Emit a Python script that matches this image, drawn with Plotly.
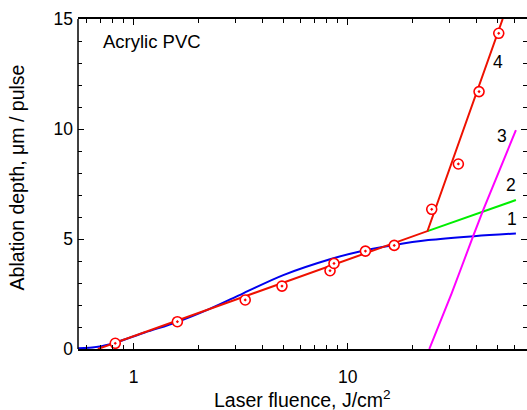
import numpy as np
import plotly.graph_objects as go

# measured data (fluence J/cm^2, depth um/pulse)
pts_F = [0.82, 1.60, 3.32, 4.93, 8.27, 8.63, 12.1, 16.5, 24.7, 32.9, 41.1, 50.8]
pts_d = [0.26, 1.24, 2.23, 2.86, 3.56, 3.89, 4.45, 4.71, 6.35, 8.41, 11.70, 14.35]

# curve 4 (red broken line)
red_F = [0.68, 23.6, 53.0]
red_d = [0.0, 5.36, 15.0]

# curve 1 (blue)
blue_F = [0.549, 0.681, 0.82, 1.126, 1.61, 2.25, 3.25, 5.0, 8.27, 11.8, 16.3, 23.8, 39.0, 61.1]
blue_d = [0.03, 0.10, 0.29, 0.75, 1.24, 1.81, 2.53, 3.36, 4.08, 4.47, 4.72, 4.95, 5.13, 5.25]

# curve 2 (green)
green_F = [23.6, 61.1]
green_d = [5.36, 6.77]

# curve 3 (magenta)
mag_F = [24.06, 30.6, 38.6, 43.0, 61.1]
mag_d = [0.0, 2.53, 5.14, 6.32, 9.95]

labels = ["1", "2", "3", "4"]
label_F = [58.4, 57.8, 52.6, 50.5]
label_d = [5.9, 7.45, 9.68, 13.06]

FONT = "Arial, Liberation Sans, sans-serif"

fig = go.Figure()
fig.add_trace(go.Scatter(x=blue_F, y=blue_d, mode="lines", line=dict(color="#0000ee", width=2, shape="spline", smoothing=1.0), hoverinfo="skip"))
fig.add_trace(go.Scatter(x=green_F, y=green_d, mode="lines", line=dict(color="#00ee00", width=2), hoverinfo="skip"))
fig.add_trace(go.Scatter(x=mag_F, y=mag_d, mode="lines", line=dict(color="#ff00ff", width=2, shape="spline", smoothing=0.5), hoverinfo="skip"))
fig.add_trace(go.Scatter(x=red_F, y=red_d, mode="lines", line=dict(color="#ee1100", width=2), hoverinfo="skip"))
fig.add_trace(go.Scatter(x=pts_F, y=pts_d, mode="markers",
                         marker=dict(symbol="circle-dot", size=10, color="white", line=dict(color="#ff0000", width=1.6))))

anns = []
for t, f, d in zip(labels, label_F, label_d):
    anns.append(dict(x=np.log10(f), y=d, xref="x", yref="y", text=t, showarrow=False,
                     font=dict(family=FONT, size=17.5, color="black")))
anns.append(dict(x=0.0506, y=0.933, xref="paper", yref="paper", text="Acrylic PVC", showarrow=False,
                 xanchor="left", yanchor="middle", font=dict(family=FONT, size=18.5, color="black")))
anns.append(dict(x=0.5, y=-0.152, xref="paper", yref="paper", text="Laser fluence, J/cm<sup>2</sup>",
                 showarrow=False, xanchor="center", yanchor="middle", font=dict(family=FONT, size=19.5, color="black")))
anns.append(dict(x=-0.135, y=0.521, xref="paper", yref="paper", text="Ablation depth, μm / pulse", textangle=-90,
                 showarrow=False, xanchor="center", yanchor="middle", font=dict(family=FONT, size=19.5, color="black")))

fig.update_layout(
    width=527, height=410,
    margin=dict(l=78, r=0, t=19, b=61),
    plot_bgcolor="white", paper_bgcolor="white",
    showlegend=False,
    annotations=anns,
    font=dict(family=FONT, size=17.5, color="black"),
    shapes=[dict(type="line", xref="paper", yref="paper", x0=0, x1=0, y0=0, y1=1,
                 line=dict(color="black", width=1.5))],
)
fig.update_xaxes(type="log", range=[-0.2603, 1.8379], showgrid=False, zeroline=False,
                 showline=True, linecolor="black", linewidth=1.5, mirror="ticks",
                 ticks="inside", ticklen=6, tickwidth=1, tickcolor="black",
                 tickvals=[1, 10], ticktext=["1", "10"], ticklabelstandoff=11,
                 minor=dict(ticks="inside", ticklen=4, tickwidth=1, tickcolor="black",
                            tickvals=[0.6, 0.7, 0.8, 0.9, 2, 3, 4, 5, 6, 7, 8, 9, 20, 30, 40, 50, 60]),
                 tickfont=dict(family=FONT, size=17.5))
fig.update_yaxes(range=[0, 15], showgrid=False, zeroline=False,
                 showline=False, mirror="ticks",
                 ticks="inside", ticklen=6, tickwidth=1, tickcolor="black",
                 tickvals=[0, 5, 10, 15], ticklabelstandoff=4,
                 minor=dict(ticks="inside", ticklen=4, tickwidth=1, tickcolor="black", dtick=1),
                 tickfont=dict(family=FONT, size=17.5))

fig.write_html("out.html", config={"displayModeBar": False},
               post_script="document.body.style.margin='0';document.documentElement.style.overflow='hidden';document.body.style.overflow='hidden';")
